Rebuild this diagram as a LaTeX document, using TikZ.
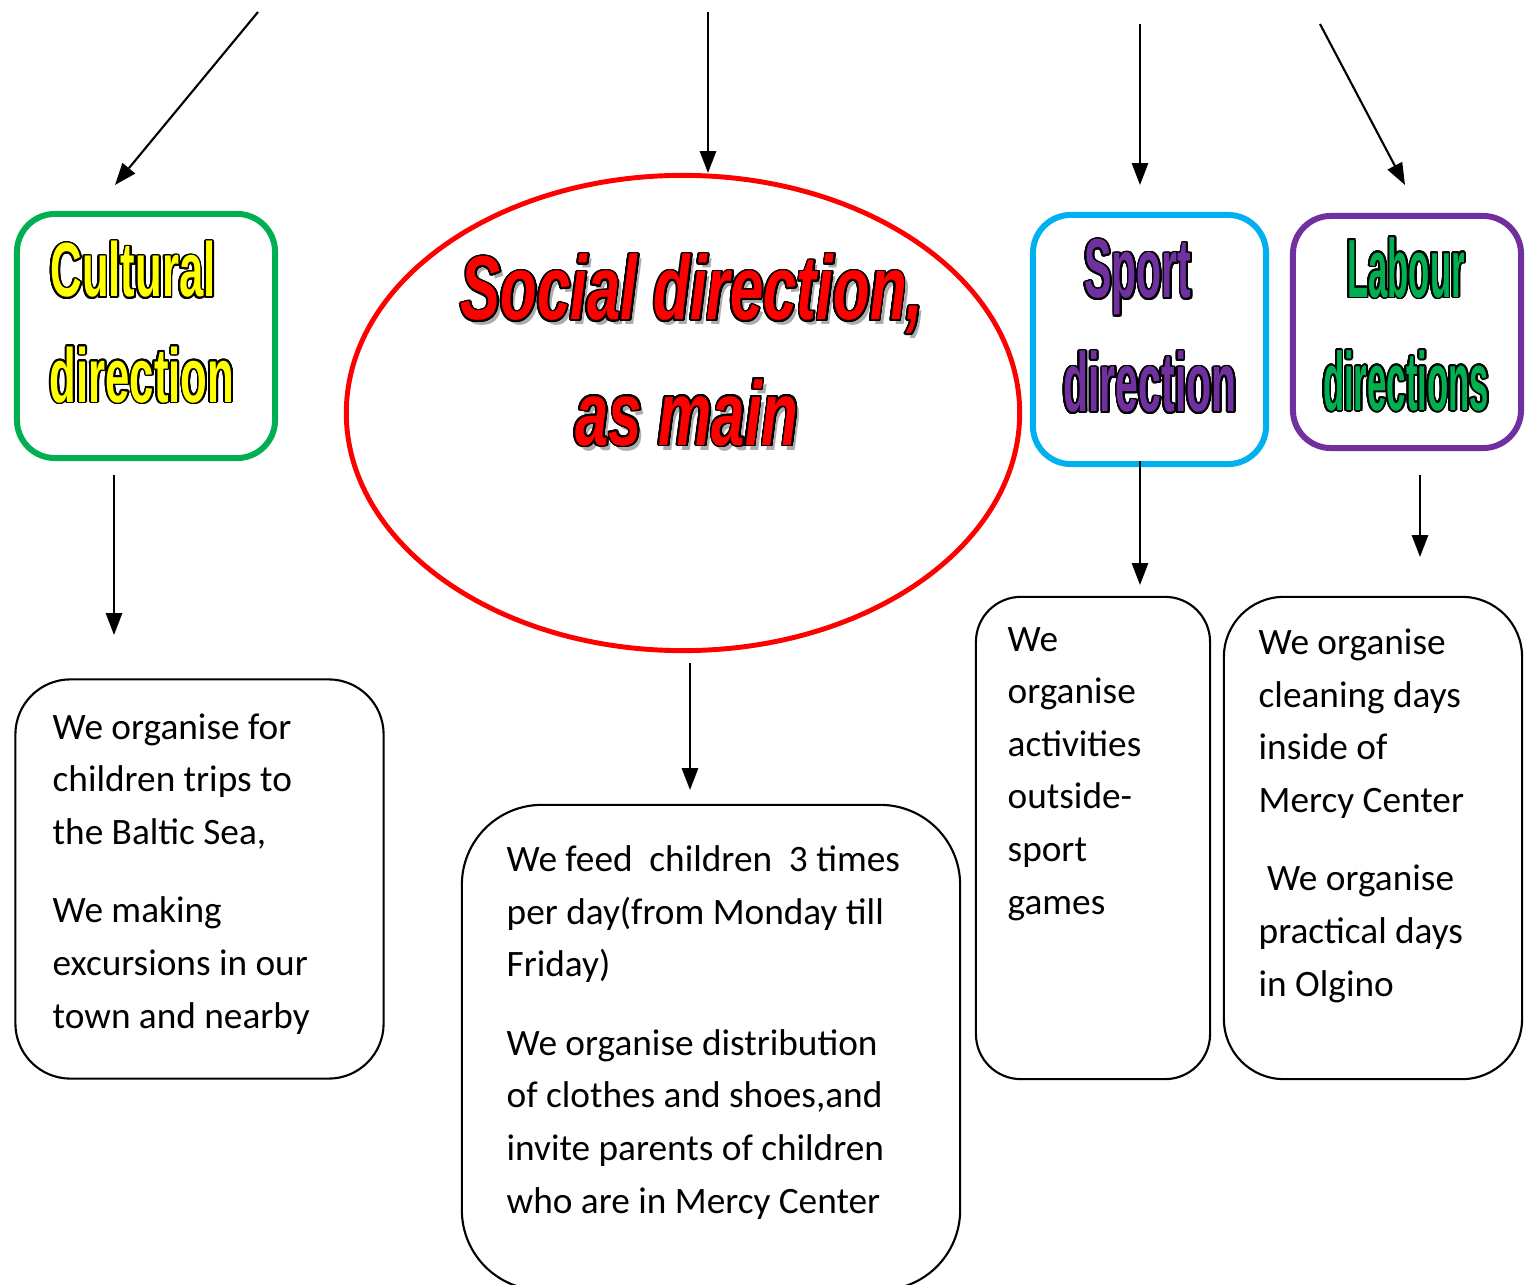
\documentclass[tikz,border=0pt]{standalone}
\usepackage{fontspec}
\usepackage{xcolor}
\usepackage{contour}
\usepackage{tikz}
\usetikzlibrary{shapes,arrows.meta}
\setmainfont{Carlito}
\newfontfamily\culturalfont{Liberation Sans}[FakeStretch=0.57]
\newfontfamily\sportfont{Liberation Sans}[FakeStretch=0.49]
\newfontfamily\labourfont{Liberation Sans}[FakeStretch=0.42]
\newfontfamily\socialfont{Liberation Sans}[FakeStretch=0.66]
\definecolor{culturalgreen}{HTML}{00B050}
\definecolor{sportblue}{HTML}{00B0F0}
\definecolor{labourpurple}{HTML}{7030A0}
\definecolor{titleyellow}{HTML}{FFFF00}
\contourlength{0.5pt}
\contournumber{24}
\tikzstyle{headbox} = [rectangle, draw, line width=1.7pt, rounded corners=0.38cm, inner sep=0pt]
\tikzstyle{infobox} = [rectangle, draw, line width=0.6pt, inner sep=0pt]
\tikzstyle{info} = [align=left, inner sep=0pt, anchor=base west, font=\fontsize{10.6}{14.95}\selectfont]
\tikzstyle{title} = [align=center, inner sep=0pt]
\tikzstyle{line} = [draw, line width=0.6pt, -{Triangle[width=4.6pt,length=6.2pt]}]

\begin{document}
\begin{tikzpicture}[x=0.01cm, y=-0.01cm]
        \useasboundingbox (0,0) rectangle (1529,1285);
        \clip (0,0) rectangle (1529,1285);
        % Place nodes
        \node [headbox, draw=culturalgreen, minimum width=2.58cm, minimum height=2.44cm] (cultural) at (146,336) {};
        \node [ellipse, draw=red, line width=1.4pt, minimum width=6.73cm, minimum height=4.75cm] (social) at (683,413) {};
        \node [headbox, draw=sportblue, minimum width=2.33cm, minimum height=2.49cm] (sport) at (1149.5,339.5) {};
        \node [headbox, draw=labourpurple, minimum width=2.28cm, minimum height=2.32cm] (labour) at (1407,332) {};
        % Titles
        \node [title, text=titleyellow, font=\culturalfont\bfseries\fontsize{21.8}{29.9}\selectfont] (culturaltitle) at (142,323) {\contour{black}{Cultural}\hspace*{0.18cm}\\\contour{black}{direction}};
        \node [title, text=gray!65, font=\socialfont\bfseries\itshape\fontsize{25.8}{35.6}\selectfont] (socialshadow) at (696,355) {Social direction,\\as main\hspace*{0.1cm}};
        \node [title, text=red, font=\socialfont\bfseries\itshape\fontsize{25.8}{35.6}\selectfont] (socialtitle) at (692,351) {\contour{black}{Social direction,}\\\contour{black}{as main}\hspace*{0.1cm}};
        \node [title, text=labourpurple, font=\sportfont\bfseries\fontsize{23.8}{32.4}\selectfont] (sporttitle) at (1150,327) {\contour{black}{Sport}\hspace*{0.24cm}\\\contour{black}{direction}};
        \node [title, text=culturalgreen, font=\labourfont\bfseries\fontsize{23.5}{32.2}\selectfont] (labourtitle) at (1406,325) {\contour{black}{Labour}\\\contour{black}{directions}};
        % Text boxes
        \node [infobox, rounded corners=0.55cm, minimum width=3.68cm, minimum height=3.99cm] (culturalbox) at (199.5,879) {};
        \node [infobox, rounded corners=0.8cm, minimum width=4.98cm, minimum height=4.85cm] (socialbox) at (711,1047.5) {};
        \node [infobox, rounded corners=0.45cm, minimum width=2.34cm, minimum height=4.82cm] (sportbox) at (1093,838) {};
        \node [infobox, rounded corners=0.6cm, minimum width=2.98cm, minimum height=4.82cm] (labourbox) at (1373,838) {};
        \node [info] (culturaltext) at (52,1028) {We organise for\\children trips to\\the Baltic Sea,\\[7.4pt]We making\\excursions in our\\town and nearby};
        \node [info] (socialtext) at (506,1213) {We feed~ children~ 3 times\\per day(from Monday till\\Friday)\\[7.4pt]We organise distribution\\of clothes and shoes,and\\invite parents of children\\who are in Mercy Center};
        \node [info] (sporttext) at (1007,914) {We\\organise\\activities\\outside-\\sport\\games};
        \node [info] (labourtext) at (1258,996) {We organise\\cleaning days\\inside of\\Mercy Center\\[7.4pt]~We organise\\practical days\\in Olgino};
        % Arrow ends
        \coordinate (culturalin) at (258,12);
        \coordinate (culturaltip) at (115,185);
        \coordinate (socialin) at (708,12);
        \coordinate (socialtip) at (708,173);
        \coordinate (sportin) at (1140,24);
        \coordinate (sporttip) at (1140,185);
        \coordinate (labourin) at (1320,24);
        \coordinate (labourtip) at (1405,185);
        \coordinate (culturalout) at (114,475);
        \coordinate (culturaldown) at (114,635);
        \coordinate (socialout) at (690,663);
        \coordinate (socialdown) at (690,790);
        \coordinate (sportout) at (1140,461);
        \coordinate (sportdown) at (1140,585);
        \coordinate (labourout) at (1420,475);
        \coordinate (labourdown) at (1420,557);
        % Draw edges
        \path [line] (culturalin) -- (culturaltip);
        \path [line] (socialin) -- (socialtip);
        \path [line] (sportin) -- (sporttip);
        \path [line] (labourin) -- (labourtip);
        \path [line] (culturalout) -- (culturaldown);
        \path [line] (socialout) -- (socialdown);
        \path [line] (sportout) -- (sportdown);
        \path [line] (labourout) -- (labourdown);
    \end{tikzpicture}
\end{document}
